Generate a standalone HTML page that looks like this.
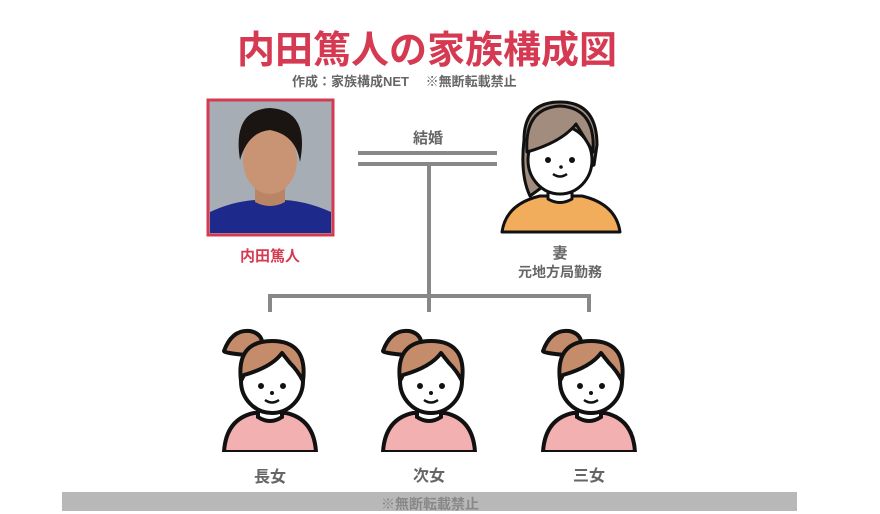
<!DOCTYPE html>
<html><head><meta charset="utf-8"><style>
body{margin:0;width:880px;height:511px;background:#fff;position:relative;overflow:hidden;font-family:"Liberation Sans","Noto Sans CJK JP",sans-serif;}
.t{position:absolute;white-space:nowrap;font-weight:bold;text-align:center;}
</style></head><body>
<div class="t" style="left:0;width:854px;top:29px;font-size:38px;color:#d63a52;line-height:44px;">内田篤人の家族構成図</div>
<div class="t" style="left:292px;top:74px;font-size:13px;color:#666;line-height:16px;">作成：家族構成NET　 ※無断転載禁止</div>

<svg width="880" height="511" style="position:absolute;left:0;top:0">
<defs>
<symbol id="girl" viewBox="0 0 100 125">
 <path d="M4 125 Q6 92 34 86 L66 86 Q94 92 96 125 Z" fill="#f2b0b0" stroke="#111" stroke-width="4"/>
 <path d="M38 72 L38 90 Q50 98 62 90 L62 72 Z" fill="#fff" stroke="#111" stroke-width="4"/>
 <path d="M26 28 Q4 26 4 24 Q12 2 30 4 Q40 6 42 14 Z" fill="#c48c6a" stroke="#111" stroke-width="4" stroke-linejoin="round"/>
 <ellipse cx="52" cy="54" rx="31" ry="32" fill="#fff" stroke="#111" stroke-width="4"/>
 <path d="M21 54 Q16 14 52 14 Q88 14 83 54 Q78 44 70 36 L62 26 Q52 40 24 48 Z" fill="#c48c6a" stroke="#111" stroke-width="4" stroke-linejoin="round"/>
 <circle cx="41" cy="59" r="3" fill="#111"/><circle cx="63" cy="59" r="3" fill="#111"/>
 <circle cx="52" cy="66" r="2" fill="#111"/>
 <path d="M45 73 Q52 78 59 73" fill="none" stroke="#111" stroke-width="2.5"/>
</symbol>
</defs>
<rect x="208" y="100" width="125" height="135" fill="#a7adb4" stroke="#d63a52" stroke-width="3"/>
<path d="M210 233 L210 212 Q240 198 270 200 Q300 198 331 212 L331 233 Z" fill="#1d2a8c"/>
<path d="M255 180 L255 202 Q270 210 285 202 L285 180Z" fill="#b98564"/>
<ellipse cx="270" cy="160" rx="27" ry="34" fill="#c99474"/>
<path d="M240 160 Q232 110 270 108 Q310 110 300 162 Q296 135 270 130 Q248 132 240 160Z" fill="#1a1512"/>
<g stroke="#888" stroke-width="4" fill="none">
<line x1="358" y1="153" x2="497" y2="153"/><line x1="358" y1="164" x2="497" y2="164"/>
<line x1="429" y1="164" x2="429" y2="296"/>
<line x1="268" y1="296" x2="591" y2="296"/>
<line x1="270" y1="294" x2="270" y2="312"/><line x1="429" y1="294" x2="429" y2="312"/><line x1="589" y1="294" x2="589" y2="312"/>
</g>
<g stroke="#111" stroke-width="3" stroke-linejoin="round">
<path d="M502 232 Q506 204 540 196 L582 196 Q616 204 620 232 Z" fill="#f2ad5c"/>
<path d="M548 182 L548 199 Q560 206 572 199 L572 182Z" fill="#fff"/>
<path d="M530 196 Q520 175 524 140 Q524 102 560 102 Q597 102 597 145 L594 165 L545 185 Z" fill="#a18c7e"/>
<ellipse cx="560" cy="160" rx="32" ry="34" fill="#fff"/>
<path d="M527 152 Q524 108 560 106 Q596 108 593 152 Q586 140 576 124 Q562 142 527 152Z" fill="#a18c7e"/>
</g>
<circle cx="548" cy="160" r="3" fill="#111"/><circle cx="572" cy="160" r="3" fill="#111"/>
<circle cx="561" cy="167" r="1.8" fill="#111"/>
<path d="M553 174 Q560 179 567 174" fill="none" stroke="#111" stroke-width="2.5"/>
<use href="#girl" x="220" y="327" width="100" height="125"/>
<use href="#girl" x="379" y="327" width="100" height="125"/>
<use href="#girl" x="539" y="327" width="100" height="125"/>
<rect x="62" y="492" width="735" height="19" fill="#b8b8b8"/>
</svg>
<div class="t" style="left:400px;width:56px;top:127px;font-size:15px;color:#666;">結婚</div>
<div class="t" style="left:220px;width:100px;top:245px;font-size:15px;color:#d63a52;">内田篤人</div>
<div class="t" style="left:510px;width:100px;top:242px;font-size:15px;color:#666;">妻</div>
<div class="t" style="left:500px;width:120px;top:262px;font-size:14px;color:#666;">元地方局勤務</div>
<div class="t" style="left:230px;width:80px;top:463px;font-size:16px;color:#666;">長女</div>
<div class="t" style="left:389px;width:80px;top:462px;font-size:16px;color:#666;">次女</div>
<div class="t" style="left:549px;width:80px;top:462px;font-size:16px;color:#666;">三女</div>
<div class="t" style="left:330px;width:200px;top:494px;font-size:14px;color:#888;">※無断転載禁止</div>
</body></html>
